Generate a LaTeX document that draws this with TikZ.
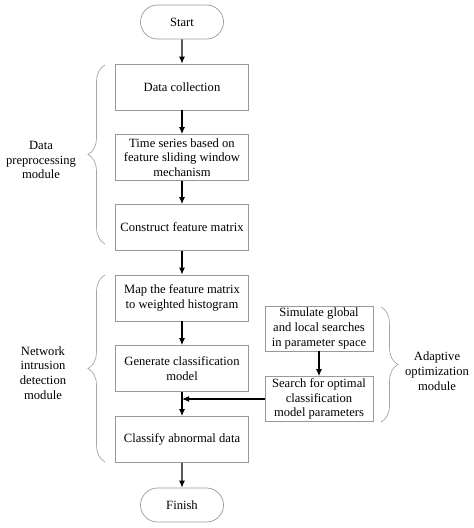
\documentclass[tikz,border=0pt]{standalone}
\usepackage{fontspec}
\setmainfont{Liberation Serif}
\usetikzlibrary{arrows}
\usetikzlibrary{arrows.meta}
\usetikzlibrary{shapes}
\usetikzlibrary{shapes.misc}
\usetikzlibrary{decorations.pathreplacing}
\tikzset{>=latex}
\tikzset{proc/.style = {rectangle, draw = gray!80, line width = 0.7pt, minimum width = 133pt, minimum height = 46pt, inner sep = 1, align = center}}
\tikzset{term/.style = {rounded rectangle, draw = gray!80, line width = 0.7pt, minimum width = 85pt, minimum height = 34pt, inner sep = 1}}
\tikzset{sideproc/.style = {proc, minimum width = 108pt, minimum height = 45pt}}
\tikzset{lbl/.style = {draw=none, align=center, inner sep = 1}}
\tikzset{grp/.style = {draw = gray!70, line width = 0.7pt, decorate, decoration = {brace, amplitude = 17pt}}}
\tikzset{flow/.style = {-{Latex[length=7pt, width=6pt]}, draw = black, line width = 1.1pt}}

\begin{document}
\begin{tikzpicture}[x=1pt, y=-1pt, font=\fontsize{12.6}{14.8}\selectfont]
\useasboundingbox (0,0) rectangle (474,528);
% main column
\node [term] (start) at (182, 22) {Start};
\node [proc] (collect) at (182, 87) {Data collection};
\node [proc] (series) at (182, 157.5) {Time series based on\\feature sliding window\\mechanism};
\node [proc] (matrix) at (182, 227.5) {Construct feature matrix};
\node [proc] (hist) at (182, 298) {Map the feature matrix\\to weighted histogram};
\node [proc] (model) at (182, 368.5) {Generate classification\\model};
\node [proc] (classify) at (182, 439.5) {Classify abnormal data};
\node [term] (finish) at (182, 505) {Finish};
% optimization column
\node [sideproc] (simulate) at (319, 328.5) {Simulate global\\and local searches\\in parameter space};
\node [sideproc] (search) at (319, 399) {Search for optimal\\classification\\model parameters};
\coordinate (J) at (search.west -| model.south);
% module labels
\node [lbl] (preproc) at (41, 160) {Data\\preprocessing\\module};
\node [lbl] (detect) at (43, 373) {Network\\intrusion\\detection\\module};
\node [lbl] (adapt) at (437, 371) {Adaptive\\optimization\\module};
% braces
\draw [grp] (105, 244) -- (105, 65);
\draw [grp] (105, 462) -- (105, 275);
\draw [grp] (381, 307) -- (381, 422);
% flow
\draw [flow] (start) to (collect);
\draw [flow] (collect) to (series);
\draw [flow] (series) to (matrix);
\draw [flow] (matrix) to (hist);
\draw [flow] (hist) to (model);
\draw [flow] (model) to (classify);
\draw [flow] (classify) to (finish);
\draw [flow] (simulate) to (search);
\draw [flow] (search.west) to (J);
\end{tikzpicture}
\end{document}
